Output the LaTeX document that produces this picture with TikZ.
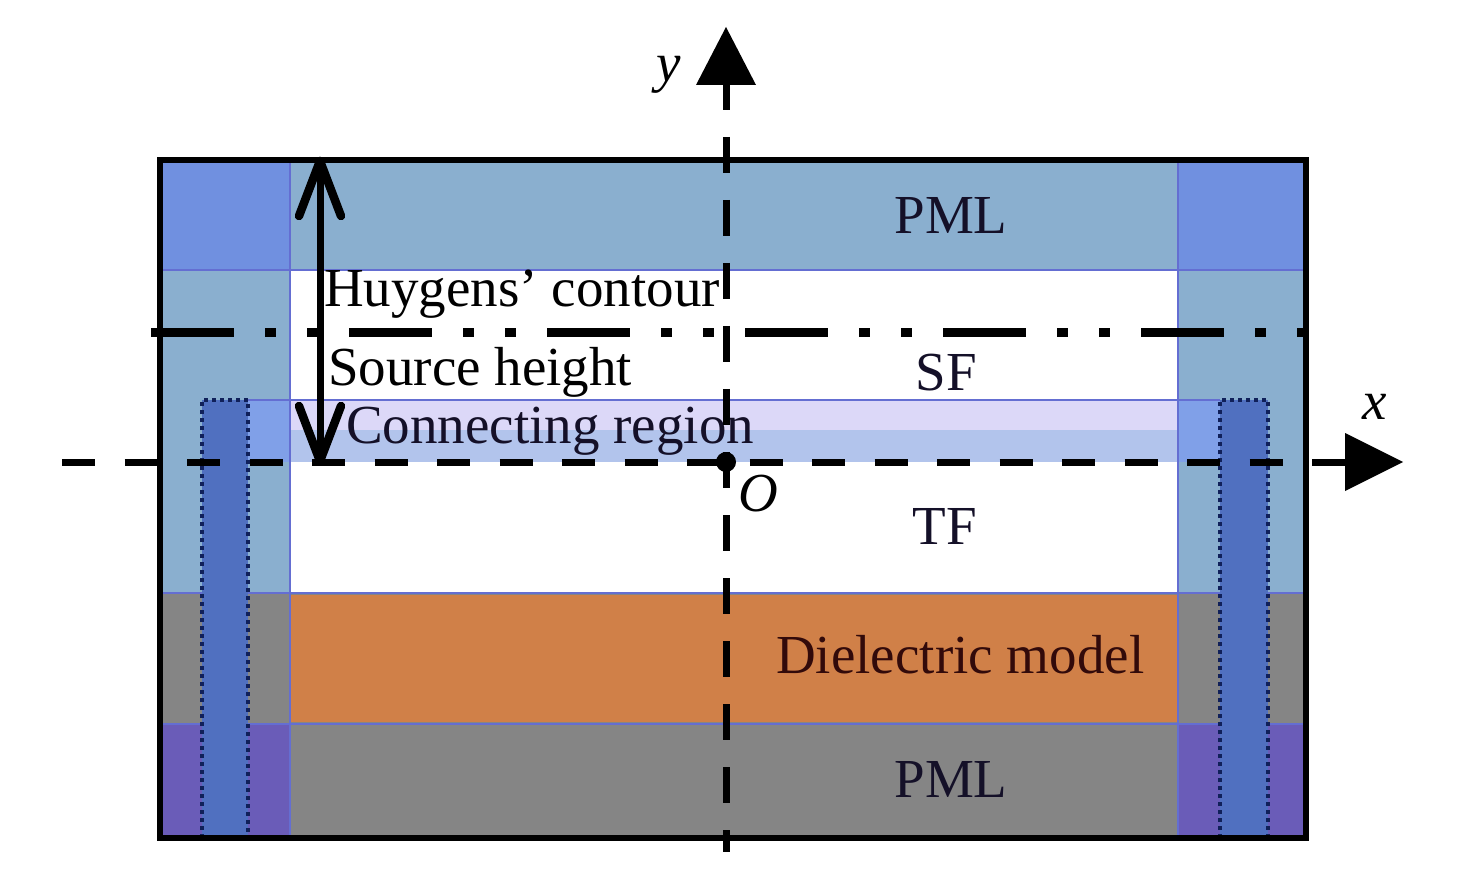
\documentclass[tikz,border=0pt]{standalone}
\usepackage{fontspec}
\setmainfont{Liberation Serif}
\definecolor{pmlblue}{RGB}{138,175,207}
\definecolor{cornerblue}{RGB}{112,144,224}
\definecolor{connlav}{RGB}{220,216,248}
\definecolor{connlow}{RGB}{178,196,236}
\definecolor{connside}{RGB}{128,160,232}
\definecolor{stripblue}{RGB}{80,112,192}
\definecolor{dielorange}{RGB}{208,128,72}
\definecolor{pmlgray}{RGB}{133,133,133}
\definecolor{cornerpurple}{RGB}{106,92,184}
\definecolor{edgeblue}{RGB}{100,110,210}
\definecolor{dotnavy}{RGB}{16,32,90}
\definecolor{txtdark}{RGB}{20,16,40}
\begin{document}
\begin{tikzpicture}[x=1pt,y=-1pt,
  lbl/.style={inner sep=0pt,font=\fontsize{55}{60}\selectfont,text=txtdark},
  ilbl/.style={inner sep=0pt,font=\fontsize{55}{60}\selectfont\itshape,text=black},
  edgeline/.style={edgeblue,line width=2.5pt},
  dotbox/.style={dotnavy,line width=4.5pt,dash pattern=on 4pt off 4pt},
  axisline/.style={black,line width=7pt},
  huygens/.style={black,line width=9pt,dash pattern=on 83pt off 31pt on 11pt off 31pt on 11pt off 31pt},
  dimline/.style={black,line width=7pt,line cap=round,line join=round},
  dimtip/.style={black,line width=8.5pt,line cap=round,line join=round}]
\useasboundingbox (0,0) rectangle (1476,893);
\fill[white] (0,0) rectangle (1476,893);
% regions
\fill[pmlblue] (160,160) rectangle (1306,592);
\fill[white] (290,270) rectangle (1178,592);
\fill[cornerblue] (160,160) rectangle (290,270);
\fill[cornerblue] (1178,160) rectangle (1306,270);
\fill[connside] (246,400) rectangle (290,462);
\fill[connside] (1178,400) rectangle (1220,462);
\fill[connlav] (290,400) rectangle (1178,430);
\fill[connlow] (290,430) rectangle (1178,462);
\fill[pmlgray] (160,592) rectangle (1306,838);
\fill[dielorange] (290,595) rectangle (1178,722);
\fill[cornerpurple] (160,724) rectangle (290,838);
\fill[cornerpurple] (1178,724) rectangle (1306,838);
% edges
\draw[edgeline] (160,270) -- (1306,270);
\draw[edgeline] (160,593) -- (1306,593);
\draw[edgeline] (160,724) -- (1306,724);
\draw[edgeline] (290,160) -- (290,838);
\draw[edgeline] (1178,160) -- (1178,838);
\draw[edgeblue,line width=1.5pt] (248,400) -- (1220,400);
% dotted strips
\fill[stripblue] (202,400) rectangle (248,838);
\fill[stripblue] (1220,400) rectangle (1268,838);
\draw[dotbox] (202,838) -- (202,400) -- (248,400) -- (248,838);
\draw[dotbox] (1220,838) -- (1220,400) -- (1268,400) -- (1268,838);
% outer border
\draw[black,line width=6.5pt] (160,160) rectangle (1306,838);
% texts
\node[lbl,anchor=base] (pmltop) at (951,234) {PML};
\node[lbl,anchor=base] (pmlbot) at (951,797) {PML};
\node[lbl,anchor=base] (sf) at (946,391) {SF};
\node[lbl,anchor=base] (tf) at (945,544) {TF};
\node[lbl,anchor=base west,text=black] (huy) at (324,307) {Huygens’ contour};
\node[lbl,anchor=base west,text=black] (src) at (328,385) {Source height};
\node[lbl,anchor=base west] (conn) at (346,443) {Connecting region};
\node[lbl,anchor=base west,text={rgb,255:red,50;green,10;blue,10}] (diel) at (776,673) {Dielectric model};
% Huygens contour line
\coordinate (hA) at (151,333);
\coordinate (hB) at (1305,333);
\draw[huygens] (hA) -- (hB);
% source height double arrow
\coordinate (dT) at (320,161);
\coordinate (dB) at (320,461);
\draw[dimline] (dT) -- (dB);
\draw[dimtip] (299,216) -- (dT) -- (341,216);
\draw[dimtip] (299,406) -- (dB) -- (341,406);
% axes
\coordinate (xS) at (62,462);
\coordinate (xE) at (1345,462);
\coordinate (xT) at (1403,462);
\draw[axisline,dash pattern=on 33pt off 29.5pt] (xS) -- (xE);
\fill[black] (xT) -- (1345,433) -- (1345,491) -- cycle;
\coordinate (yS) at (726,74);
\coordinate (yE) at (726,852);
\coordinate (yT) at (726,27);
\draw[axisline,dash pattern=on 36pt off 27pt] (yS) -- (yE);
\fill[black] (yT) -- (696,85) -- (756,85) -- cycle;
\fill[black] (726,462) circle (10);
\node[ilbl,anchor=base] (ylab) at (669,82) {y};
\node[ilbl,anchor=base] (xlab) at (1375,420) {x};
\node[ilbl,anchor=base] (olab) at (758,511) {O};
\end{tikzpicture}
\end{document}
